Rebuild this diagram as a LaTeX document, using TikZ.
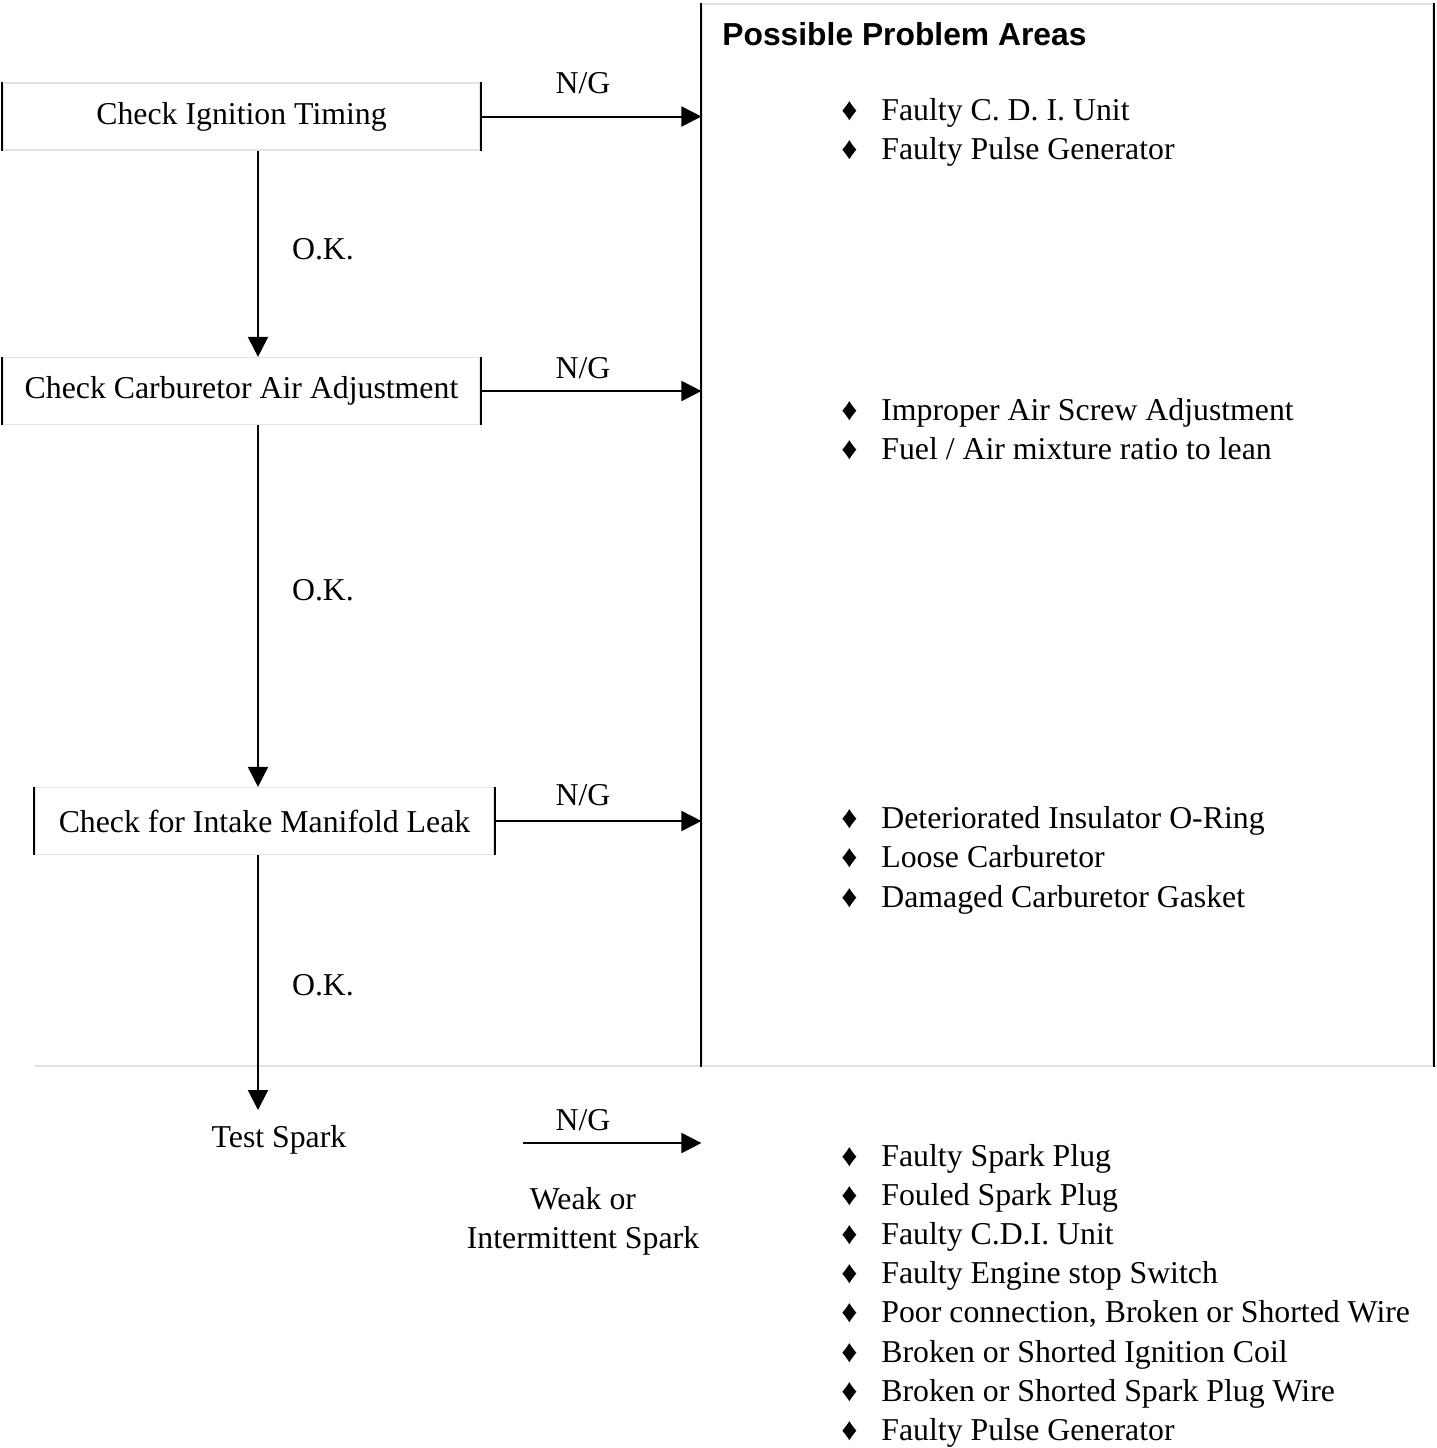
\documentclass[tikz,border=0pt]{standalone}
\usepackage{fontspec}
\setmainfont{Liberation Serif}
\newfontfamily\headfont{Liberation Sans}
\usetikzlibrary{arrows.meta, positioning}

\definecolor{rulegray}{RGB}{226,226,226}

\tikzset{
  stepbox/.style={draw=rulegray, line width=0.6pt, minimum height=33.5pt, inner sep=0pt},
  side/.style={line width=1pt},
  flow/.style={-{Triangle[length=10pt, width=10pt]}, line width=1pt},
  lbl/.style={inner sep=0pt},
  item/.style={anchor=base west, inner sep=0pt},
}

% diamond bullet in front of every problem
\newcommand{\diam}{\makebox[20pt][l]{♦}}

\begin{document}
\begin{tikzpicture}[x=0.5pt, y=-0.5pt, font=\fontsize{15.9}{19.5}\selectfont]
    \useasboundingbox (0,0) rectangle (1437,1448);

    % where the O.K. arrows run down
    \coordinate (spine) at (258,0);

    % check steps
    \node[stepbox, minimum width=238.5pt] (ign) at (241.5,116.5) {Check Ignition Timing};
    \node[stepbox, minimum width=238.5pt] (carb) at (241.5,391) {Check Carburetor Air Adjustment};
    \node[stepbox, minimum width=229.5pt] (leak) at (264.5,821) {Check for Intake Manifold Leak};
    \node[lbl] (spark) at (279,1140) {Test Spark};

    % problem area panel
    \node[draw=rulegray, line width=0.6pt, minimum width=365.5pt, minimum height=531pt, inner sep=0pt] (areas) at (1067.5,535) {};
    \draw[rulegray, line width=0.6pt] (35,1066) -- (1437,1066);
    \node[anchor=west, inner sep=0pt, font=\headfont\bfseries\fontsize{15.9}{19.5}\selectfont] (head) at (722,34) {Possible Problem Areas};

    % black sides on boxes and panel
    \foreach \b in {ign, carb, leak, areas}
        \draw[side] (\b.north west) -- (\b.south west) (\b.north east) -- (\b.south east);

    % O.K. path
    \draw[flow] (ign.south -| spine) -- (carb.north -| spine);
    \draw[flow] (carb.south -| spine) -- (leak.north -| spine);
    \coordinate (sparktop) at (258,1110);
    \draw[flow] (leak.south -| spine) -- (sparktop);
    \node[lbl] (ok1) at (323,249) {O.K.};
    \node[lbl] (ok2) at (323,590) {O.K.};
    \node[lbl] (ok3) at (323,985) {O.K.};

    % N/G branches
    \draw[flow] (ign.east) -- (ign.east -| areas.west);
    \draw[flow] (carb.east) -- (carb.east -| areas.west);
    \draw[flow] (leak.east) -- (leak.east -| areas.west);
    \coordinate (weak) at (523,1143);
    \draw[flow] (weak) -- (weak -| areas.west);
    \node[lbl] (ng1) at (583,83) {N/G};
    \node[lbl] (ng2) at (583,368) {N/G};
    \node[lbl] (ng3) at (583,795) {N/G};
    \node[lbl] (ng4) at (583,1120) {N/G};
    \node[lbl, align=center] (weaklbl) at (583,1221) {Weak or\\Intermittent Spark};

    % possible causes
    \foreach \txt [count=\i from 0] in {Faulty C. D. I. Unit, Faulty Pulse Generator}
        \node[item] (ignp-\i) at (841,120+39*\i) {\diam\txt};
    \foreach \txt [count=\i from 0] in {Improper Air Screw Adjustment, Fuel / Air mixture ratio to lean}
        \node[item] (carbp-\i) at (841,420+39*\i) {\diam\txt};
    \foreach \txt [count=\i from 0] in {Deteriorated Insulator O-Ring, Loose Carburetor, Damaged Carburetor Gasket}
        \node[item] (leakp-\i) at (841,828+39.5*\i) {\diam\txt};
    \foreach \txt [count=\i from 0] in {Faulty Spark Plug, Fouled Spark Plug, Faulty C.D.I. Unit,
        Faulty Engine stop Switch, {Poor connection, Broken or Shorted Wire},
        Broken or Shorted Ignition Coil, Broken or Shorted Spark Plug Wire, Faulty Pulse Generator}
        \node[item] (sparkp-\i) at (841,1166+39.2*\i) {\diam\txt};
\end{tikzpicture}
\end{document}
